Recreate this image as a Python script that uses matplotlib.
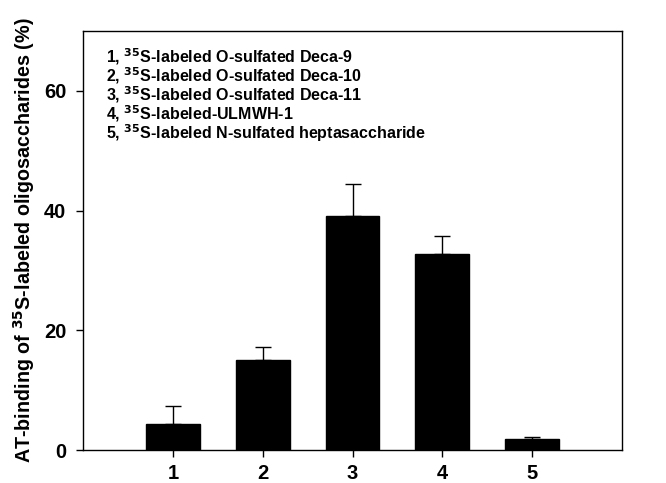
import numpy as np
from matplotlib import pyplot as plt

plt.rcParams['font.family'] = ['Liberation Sans', 'DejaVu Sans']
plt.rcParams['font.weight'] = 'bold'

groups = [1, 2, 3, 4, 5]
binding = [4.4, 15.0, 39.1, 32.8, 1.8]
err = [3.0, 2.2, 5.3, 3.0, 0.4]
labels = ["O-sulfated Deca-9", "O-sulfated Deca-10", "O-sulfated Deca-11",
          "-ULMWH-1", "N-sulfated heptasaccharide"]

fig = plt.figure(figsize=(6.66, 4.83), dpi=100)
ax = fig.add_axes([83/666, 33/483, 539/666, 419/483])

ax.bar(groups, binding, width=0.6, color='black', edgecolor='black')
ax.errorbar(groups, binding, yerr=[np.zeros(len(err)), err], fmt='none',
            ecolor='black', elinewidth=1, capsize=6, capthick=1)

ax.set_xlim(0, 6)
ax.set_ylim(0, 70)
ax.set_xticks(groups)
ax.set_yticks([0, 20, 40, 60])
ax.tick_params(direction='out', length=5, width=1, labelsize=14.5)
ax.tick_params(axis='y', pad=7)
ax.tick_params(axis='x', pad=5)
for lbl in ax.get_xticklabels() + ax.get_yticklabels():
    lbl.set_fontweight('bold')
for s in ax.spines.values():
    s.set_linewidth(1)

ax.set_ylabel(r"AT-binding of $^{\mathbf{35}}$S-labeled oligosaccharides (%)",
              fontsize=14.2, fontweight='bold', labelpad=5)

for i, lab in enumerate(labels):
    sep = "" if lab.startswith("-") else " "
    ax.text(106, 483 - (57 + i*19), str(i+1) + r", $^{\mathbf{35}}$S-labeled" + sep + lab,
            transform=None, fontsize=11.5, fontweight='bold', va='center')

fig.savefig("out.png", dpi=100)
